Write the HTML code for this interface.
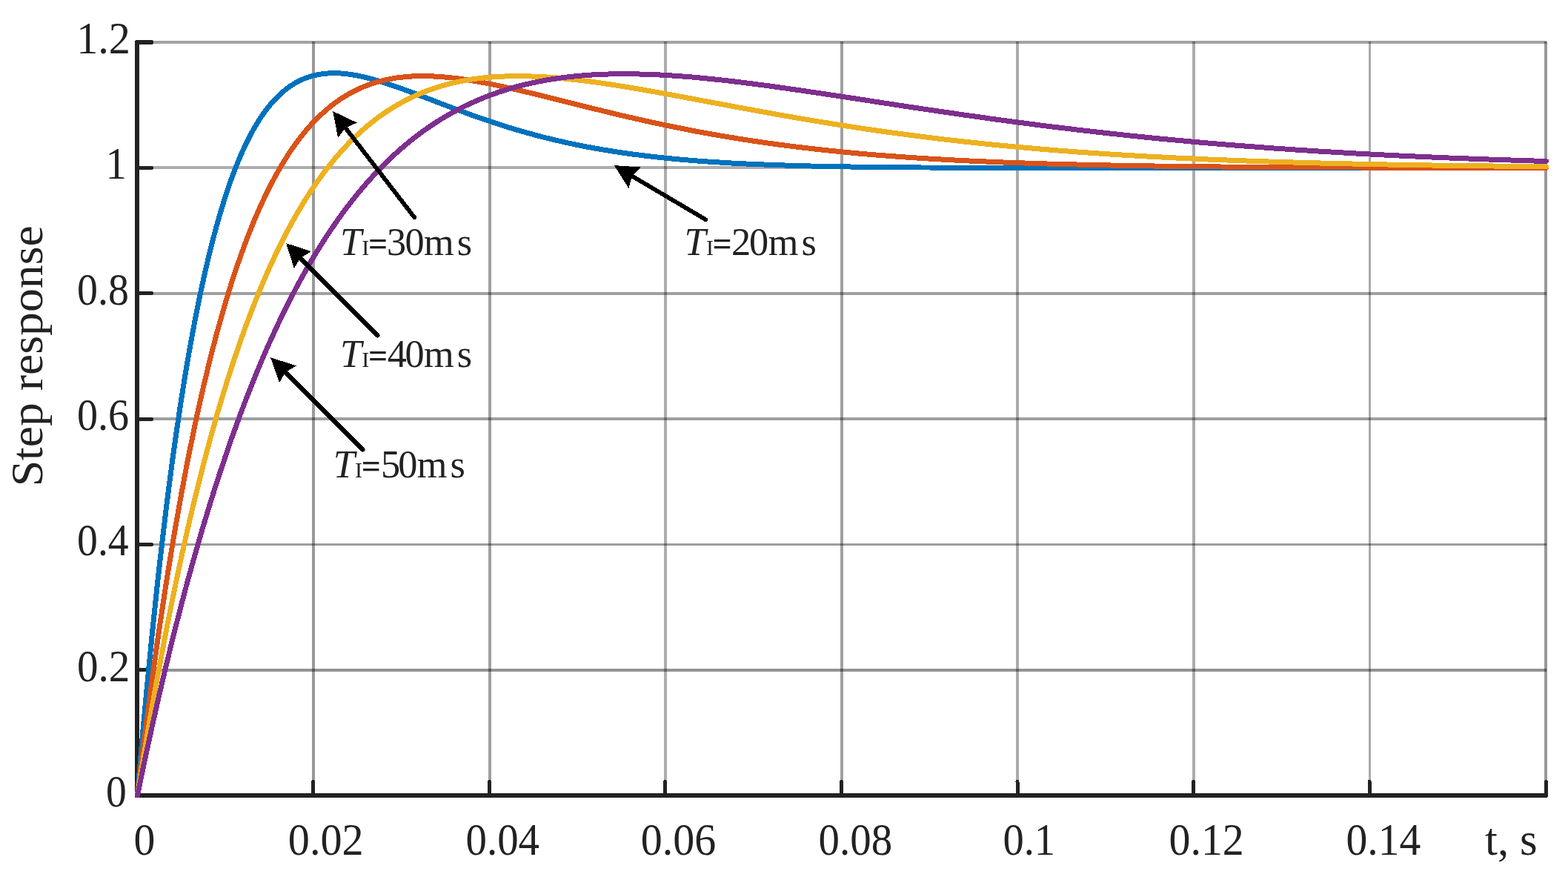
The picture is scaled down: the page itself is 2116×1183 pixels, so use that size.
<!DOCTYPE html>
<html lang="en"><head><meta charset="utf-8"><title>Step response</title>
<style>html,body{margin:0;padding:0;background:#fff;}body{width:2116px;height:1183px;overflow:hidden;}svg{display:block;}text{font-family:'Liberation Serif', 'DejaVu Serif', serif;fill:#222222;}</style>
</head><body>
<svg width="2116" height="1183" viewBox="0 0 2116 1183" role="img" aria-label="Step response for different integral time constants">
<rect x="0" y="0" width="2116" height="1183" fill="#ffffff"/>
<g fill="#000000" shape-rendering="crispEdges">
<rect x="421" y="56" width="4" height="1014" fill-opacity="0.400"/>
<rect x="659" y="56" width="4" height="1014" fill-opacity="0.376"/>
<rect x="896" y="56" width="4" height="1014" fill-opacity="0.322"/>
<rect x="1134" y="56" width="4" height="1014" fill-opacity="0.373"/>
<rect x="1371" y="56" width="4" height="1014" fill-opacity="0.329"/>
<rect x="1609" y="56" width="4" height="1014" fill-opacity="0.329"/>
<rect x="1847" y="56" width="3" height="1014" fill-opacity="0.329"/>
<rect x="2084" y="56" width="4" height="1014" fill-opacity="0.400"/>
<rect x="188" y="55" width="1899" height="4" fill-opacity="0.361"/>
<rect x="188" y="224" width="1899" height="4" fill-opacity="0.322"/>
<rect x="188" y="394" width="1899" height="4" fill-opacity="0.373"/>
<rect x="188" y="563" width="1899" height="4" fill-opacity="0.376"/>
<rect x="188" y="733" width="1899" height="3" fill-opacity="0.384"/>
<rect x="188" y="902" width="1899" height="4" fill-opacity="0.424"/>
</g>
<g stroke="#222222" fill="none" stroke-linecap="round" stroke-linejoin="round" shape-rendering="crispEdges">
<path d="M185,57 L185,1073 L2086.5,1073" stroke-width="6"/>
<line x1="422.7" y1="1072" x2="422.7" y2="1054.5" stroke-width="5"/>
<line x1="660.3" y1="1072" x2="660.3" y2="1054.5" stroke-width="5"/>
<line x1="897.8" y1="1072" x2="897.8" y2="1054.5" stroke-width="5"/>
<line x1="1135.4" y1="1072" x2="1135.4" y2="1054.5" stroke-width="5"/>
<line x1="1373.0" y1="1072" x2="1373.0" y2="1054.5" stroke-width="5"/>
<line x1="1610.6" y1="1072" x2="1610.6" y2="1054.5" stroke-width="5"/>
<line x1="1848.1" y1="1072" x2="1848.1" y2="1054.5" stroke-width="5"/>
<line x1="2086.5" y1="1072" x2="2086.5" y2="1054.5" stroke-width="5"/>
<rect x="186" y="54" width="20" height="6" fill="#222222" stroke="none"/>
<rect x="206" y="55" width="1" height="4" fill="#222222" stroke="none"/>
<rect x="186" y="224" width="20" height="5" fill="#222222" stroke="none"/>
<rect x="206" y="225" width="1" height="3" fill="#222222" stroke="none"/>
<rect x="186" y="393" width="20" height="5" fill="#222222" stroke="none"/>
<rect x="206" y="394" width="1" height="3" fill="#222222" stroke="none"/>
<rect x="186" y="563" width="20" height="5" fill="#222222" stroke="none"/>
<rect x="206" y="564" width="1" height="3" fill="#222222" stroke="none"/>
<rect x="186" y="732" width="20" height="5" fill="#222222" stroke="none"/>
<rect x="206" y="733" width="1" height="3" fill="#222222" stroke="none"/>
<rect x="186" y="901" width="20" height="5" fill="#222222" stroke="none"/>
<rect x="206" y="902" width="1" height="3" fill="#222222" stroke="none"/>
</g>
<defs><clipPath id="cp"><rect x="182" y="0" width="2116" height="1076"/></clipPath></defs>
<g fill="none" stroke-width="7.0" stroke-linejoin="round" stroke-linecap="round" clip-path="url(#cp)" shape-rendering="crispEdges">
<path stroke="#0072BD" d="M185.4,1073.2 189.4,1026.3 193.3,981.2 197.3,937.9 201.3,896.3 205.2,856.4 209.2,818.1 213.1,781.4 217.1,746.2 221.1,712.4 225.0,680.1 229.0,649.1 232.9,619.5 236.9,591.1 240.9,563.9 244.8,537.9 248.8,513.1 252.7,489.3 256.7,466.7 260.7,445.0 264.6,424.4 268.6,404.7 272.5,385.9 276.5,368.0 280.5,350.9 284.4,334.7 288.4,319.3 292.3,304.6 296.3,290.7 300.3,277.5 304.2,264.9 308.2,253.0 312.1,241.8 316.1,231.1 320.1,221.0 324.0,211.5 328.0,202.5 331.9,194.1 335.9,186.1 339.9,178.6 343.8,171.6 347.8,165.0 351.7,158.8 355.7,153.0 359.6,147.6 363.6,142.6 367.6,137.9 371.5,133.6 375.5,129.6 379.4,125.9 383.4,122.5 387.4,119.3 391.3,116.5 395.3,113.9 399.2,111.5 403.2,109.4 407.2,107.5 411.1,105.8 415.1,104.4 419.0,103.1 423.0,102.0 428.9,100.6 434.9,99.7 440.8,99.1 446.8,98.7 452.7,98.7 458.6,98.9 464.6,99.4 470.5,100.1 476.5,101.0 482.4,102.0 488.3,103.3 494.3,104.7 500.2,106.2 506.1,107.8 512.1,109.6 518.0,111.4 524.0,113.4 529.9,115.4 535.8,117.4 541.8,119.5 547.7,121.7 553.7,123.9 559.6,126.1 565.5,128.4 571.5,130.7 577.4,132.9 583.4,135.2 589.3,137.5 595.2,139.8 601.2,142.0 607.1,144.3 613.1,146.5 619.0,148.8 624.9,150.9 630.9,153.1 636.8,155.3 642.8,157.4 648.7,159.5 654.6,161.5 660.6,163.5 666.5,165.5 672.4,167.4 678.4,169.3 684.3,171.2 690.3,173.0 696.2,174.8 702.1,176.6 708.1,178.3 714.0,179.9 720.0,181.5 725.9,183.1 731.8,184.7 737.8,186.2 743.7,187.6 749.7,189.0 755.6,190.4 761.5,191.8 767.5,193.1 773.4,194.3 779.4,195.6 785.3,196.7 791.2,197.9 797.2,199.0 803.1,200.1 809.1,201.1 815.0,202.2 820.9,203.1 826.9,204.1 832.8,205.0 838.7,205.9 844.7,206.7 850.6,207.6 856.6,208.4 862.5,209.1 868.4,209.9 874.4,210.6 880.3,211.3 886.3,211.9 892.2,212.6 898.1,213.2 904.1,213.8 910.0,214.3 916.0,214.9 921.9,215.4 927.8,215.9 933.8,216.4 939.7,216.9 945.7,217.3 951.6,217.8 957.5,218.2 963.5,218.6 969.4,218.9 975.4,219.3 981.3,219.7 987.2,220.0 993.2,220.3 999.1,220.6 1005.0,220.9 1011.0,221.2 1016.9,221.4 1022.9,221.7 1028.8,221.9 1034.7,222.2 1040.7,222.4 1046.6,222.6 1052.6,222.8 1058.5,223.0 1064.4,223.2 1070.4,223.4 1076.3,223.5 1082.3,223.7 1088.2,223.9 1094.1,224.0 1100.1,224.1 1106.0,224.3 1112.0,224.4 1117.9,224.5 1123.8,224.6 1129.8,224.7 1135.7,224.8 1147.6,225.0 1159.5,225.2 1171.3,225.4 1183.2,225.5 1195.1,225.6 1207.0,225.7 1218.9,225.8 1230.7,225.9 1242.6,226.0 1254.5,226.0 1266.4,226.1 1278.3,226.2 1290.1,226.2 1302.0,226.2 1313.9,226.3 1325.8,226.3 1337.6,226.3 1349.5,226.4 1361.4,226.4 1373.3,226.4 1385.2,226.4 1397.0,226.4 1408.9,226.4 1420.8,226.4 1432.7,226.4 1444.6,226.4 1456.4,226.4 1468.3,226.4 1480.2,226.4 1492.1,226.4 1503.9,226.4 1515.8,226.4 1527.7,226.4 1539.6,226.4 1551.5,226.4 1563.3,226.4 1575.2,226.4 1587.1,226.4 1599.0,226.4 1610.8,226.4 1622.7,226.4 1634.6,226.4 1646.5,226.4 1658.4,226.4 1670.2,226.4 1682.1,226.4 1694.0,226.4 1705.9,226.4 1717.8,226.4 1729.6,226.4 1741.5,226.4 1753.4,226.4 1765.3,226.4 1777.1,226.4 1789.0,226.4 1800.9,226.4 1812.8,226.4 1824.7,226.4 1836.5,226.4 1848.4,226.4 1860.3,226.4 1872.2,226.4 1884.1,226.4 1895.9,226.4 1907.8,226.4 1919.7,226.4 1931.6,226.4 1943.4,226.4 1955.3,226.4 1967.2,226.4 1979.1,226.4 1991.0,226.4 2002.8,226.4 2014.7,226.4 2026.6,226.4 2038.5,226.4 2050.4,226.4 2062.2,226.4 2074.1,226.4 2086.5,226.4"/>
<path stroke="#D95319" d="M185.4,1073.2 189.4,1040.2 193.3,1008.1 197.3,976.9 201.3,946.6 205.2,917.2 209.2,888.6 213.1,860.8 217.1,833.8 221.1,807.7 225.0,782.2 229.0,757.6 232.9,733.6 236.9,710.4 240.9,687.9 244.8,666.0 248.8,644.8 252.7,624.2 256.7,604.3 260.7,585.0 264.6,566.2 268.6,548.1 272.5,530.5 276.5,513.5 280.5,497.0 284.4,481.0 288.4,465.5 292.3,450.6 296.3,436.1 300.3,422.1 304.2,408.5 308.2,395.4 312.1,382.7 316.1,370.5 320.1,358.6 324.0,347.2 328.0,336.2 331.9,325.5 335.9,315.2 339.9,305.3 343.8,295.7 347.8,286.5 351.7,277.6 355.7,269.0 359.6,260.7 363.6,252.8 367.6,245.1 371.5,237.7 375.5,230.6 379.4,223.8 383.4,217.3 387.4,211.0 391.3,204.9 395.3,199.1 399.2,193.6 403.2,188.2 407.2,183.1 411.1,178.2 415.1,173.5 419.0,169.0 423.0,164.8 428.9,158.7 434.9,153.1 440.8,147.8 446.8,142.9 452.7,138.4 458.6,134.2 464.6,130.4 470.5,126.9 476.5,123.7 482.4,120.7 488.3,118.0 494.3,115.6 500.2,113.5 506.1,111.5 512.1,109.8 518.0,108.3 524.0,107.0 529.9,105.9 535.8,104.9 541.8,104.2 547.7,103.6 553.7,103.1 559.6,102.8 565.5,102.7 571.5,102.6 577.4,102.7 583.4,102.9 589.3,103.2 595.2,103.6 601.2,104.1 607.1,104.7 613.1,105.3 619.0,106.1 624.9,106.9 630.9,107.8 636.8,108.7 642.8,109.8 648.7,110.8 654.6,111.9 660.6,113.1 666.5,114.3 672.4,115.5 678.4,116.8 684.3,118.1 690.3,119.4 696.2,120.8 702.1,122.2 708.1,123.6 714.0,125.0 720.0,126.4 725.9,127.9 731.8,129.3 737.8,130.8 743.7,132.3 749.7,133.8 755.6,135.3 761.5,136.7 767.5,138.2 773.4,139.7 779.4,141.2 785.3,142.7 791.2,144.2 797.2,145.6 803.1,147.1 809.1,148.5 815.0,150.0 820.9,151.4 826.9,152.9 832.8,154.3 838.7,155.7 844.7,157.1 850.6,158.4 856.6,159.8 862.5,161.1 868.4,162.5 874.4,163.8 880.3,165.1 886.3,166.4 892.2,167.6 898.1,168.9 904.1,170.1 910.0,171.3 916.0,172.5 921.9,173.7 927.8,174.9 933.8,176.0 939.7,177.2 945.7,178.3 951.6,179.4 957.5,180.4 963.5,181.5 969.4,182.5 975.4,183.6 981.3,184.6 987.2,185.5 993.2,186.5 999.1,187.5 1005.0,188.4 1011.0,189.3 1016.9,190.2 1022.9,191.1 1028.8,192.0 1034.7,192.8 1040.7,193.6 1046.6,194.5 1052.6,195.3 1058.5,196.0 1064.4,196.8 1070.4,197.6 1076.3,198.3 1082.3,199.0 1088.2,199.7 1094.1,200.4 1100.1,201.1 1106.0,201.7 1112.0,202.4 1117.9,203.0 1123.8,203.6 1129.8,204.2 1135.7,204.8 1147.6,206.0 1159.5,207.1 1171.3,208.1 1183.2,209.1 1195.1,210.0 1207.0,210.9 1218.9,211.8 1230.7,212.6 1242.6,213.4 1254.5,214.1 1266.4,214.8 1278.3,215.5 1290.1,216.1 1302.0,216.7 1313.9,217.3 1325.8,217.8 1337.6,218.3 1349.5,218.8 1361.4,219.3 1373.3,219.7 1385.2,220.1 1397.0,220.5 1408.9,220.9 1420.8,221.2 1432.7,221.5 1444.6,221.8 1456.4,222.1 1468.3,222.4 1480.2,222.7 1492.1,222.9 1503.9,223.1 1515.8,223.3 1527.7,223.5 1539.6,223.7 1551.5,223.9 1563.3,224.1 1575.2,224.2 1587.1,224.4 1599.0,224.5 1610.8,224.7 1622.7,224.8 1634.6,224.9 1646.5,225.0 1658.4,225.1 1670.2,225.2 1682.1,225.3 1694.0,225.4 1705.9,225.4 1717.8,225.5 1729.6,225.6 1741.5,225.6 1753.4,225.7 1765.3,225.7 1777.1,225.8 1789.0,225.8 1800.9,225.9 1812.8,225.9 1824.7,226.0 1836.5,226.0 1848.4,226.0 1860.3,226.1 1872.2,226.1 1884.1,226.1 1895.9,226.1 1907.8,226.2 1919.7,226.2 1931.6,226.2 1943.4,226.2 1955.3,226.2 1967.2,226.2 1979.1,226.3 1991.0,226.3 2002.8,226.3 2014.7,226.3 2026.6,226.3 2038.5,226.3 2050.4,226.3 2062.2,226.3 2074.1,226.3 2086.5,226.3"/>
<path stroke="#EDB120" d="M185.4,1073.2 189.4,1048.3 193.3,1024.0 197.3,1000.2 201.3,976.8 205.2,954.0 209.2,931.7 213.1,909.8 217.1,888.5 221.1,867.5 225.0,847.1 229.0,827.1 232.9,807.5 236.9,788.4 240.9,769.6 244.8,751.3 248.8,733.4 252.7,715.9 256.7,698.8 260.7,682.1 264.6,665.8 268.6,649.8 272.5,634.2 276.5,619.0 280.5,604.1 284.4,589.5 288.4,575.3 292.3,561.4 296.3,547.8 300.3,534.6 304.2,521.7 308.2,509.0 312.1,496.7 316.1,484.7 320.1,473.0 324.0,461.5 328.0,450.3 331.9,439.4 335.9,428.8 339.9,418.4 343.8,408.3 347.8,398.4 351.7,388.8 355.7,379.4 359.6,370.2 363.6,361.3 367.6,352.7 371.5,344.2 375.5,336.0 379.4,327.9 383.4,320.1 387.4,312.5 391.3,305.1 395.3,297.9 399.2,290.9 403.2,284.0 407.2,277.4 411.1,270.9 415.1,264.6 419.0,258.5 423.0,252.6 428.9,244.0 434.9,235.8 440.8,227.9 446.8,220.4 452.7,213.1 458.6,206.3 464.6,199.7 470.5,193.4 476.5,187.4 482.4,181.7 488.3,176.3 494.3,171.2 500.2,166.3 506.1,161.6 512.1,157.2 518.0,153.0 524.0,149.0 529.9,145.3 535.8,141.7 541.8,138.4 547.7,135.2 553.7,132.2 559.6,129.5 565.5,126.8 571.5,124.4 577.4,122.1 583.4,120.0 589.3,118.0 595.2,116.2 601.2,114.5 607.1,112.9 613.1,111.5 619.0,110.2 624.9,109.0 630.9,108.0 636.8,107.0 642.8,106.2 648.7,105.4 654.6,104.8 660.6,104.2 666.5,103.8 672.4,103.4 678.4,103.1 684.3,102.9 690.3,102.7 696.2,102.7 702.1,102.7 708.1,102.8 714.0,102.9 720.0,103.1 725.9,103.4 731.8,103.7 737.8,104.0 743.7,104.5 749.7,104.9 755.6,105.4 761.5,106.0 767.5,106.6 773.4,107.2 779.4,107.9 785.3,108.6 791.2,109.3 797.2,110.1 803.1,110.9 809.1,111.7 815.0,112.6 820.9,113.5 826.9,114.4 832.8,115.3 838.7,116.3 844.7,117.2 850.6,118.2 856.6,119.2 862.5,120.2 868.4,121.2 874.4,122.3 880.3,123.3 886.3,124.4 892.2,125.5 898.1,126.5 904.1,127.6 910.0,128.7 916.0,129.8 921.9,130.9 927.8,132.0 933.8,133.1 939.7,134.2 945.7,135.4 951.6,136.5 957.5,137.6 963.5,138.7 969.4,139.8 975.4,140.9 981.3,142.0 987.2,143.2 993.2,144.3 999.1,145.4 1005.0,146.5 1011.0,147.5 1016.9,148.6 1022.9,149.7 1028.8,150.8 1034.7,151.9 1040.7,152.9 1046.6,154.0 1052.6,155.1 1058.5,156.1 1064.4,157.1 1070.4,158.2 1076.3,159.2 1082.3,160.2 1088.2,161.2 1094.1,162.2 1100.1,163.2 1106.0,164.2 1112.0,165.2 1117.9,166.1 1123.8,167.1 1129.8,168.0 1135.7,169.0 1147.6,170.8 1159.5,172.6 1171.3,174.4 1183.2,176.1 1195.1,177.8 1207.0,179.4 1218.9,181.0 1230.7,182.6 1242.6,184.1 1254.5,185.6 1266.4,187.1 1278.3,188.5 1290.1,189.8 1302.0,191.2 1313.9,192.4 1325.8,193.7 1337.6,194.9 1349.5,196.1 1361.4,197.2 1373.3,198.3 1385.2,199.4 1397.0,200.4 1408.9,201.5 1420.8,202.4 1432.7,203.4 1444.6,204.3 1456.4,205.2 1468.3,206.0 1480.2,206.8 1492.1,207.6 1503.9,208.4 1515.8,209.1 1527.7,209.8 1539.6,210.5 1551.5,211.2 1563.3,211.8 1575.2,212.4 1587.1,213.0 1599.0,213.6 1610.8,214.1 1622.7,214.7 1634.6,215.2 1646.5,215.7 1658.4,216.1 1670.2,216.6 1682.1,217.0 1694.0,217.4 1705.9,217.8 1717.8,218.2 1729.6,218.6 1741.5,218.9 1753.4,219.3 1765.3,219.6 1777.1,219.9 1789.0,220.2 1800.9,220.5 1812.8,220.8 1824.7,221.0 1836.5,221.3 1848.4,221.5 1860.3,221.8 1872.2,222.0 1884.1,222.2 1895.9,222.4 1907.8,222.6 1919.7,222.8 1931.6,223.0 1943.4,223.1 1955.3,223.3 1967.2,223.4 1979.1,223.6 1991.0,223.7 2002.8,223.9 2014.7,224.0 2026.6,224.1 2038.5,224.2 2050.4,224.3 2062.2,224.5 2074.1,224.6 2086.5,224.7"/>
<path stroke="#7E2F8E" d="M185.4,1073.2 189.4,1054.0 193.3,1035.0 197.3,1016.4 201.3,998.1 205.2,980.1 209.2,962.4 213.1,944.9 217.1,927.8 221.1,910.9 225.0,894.3 229.0,878.0 232.9,862.0 236.9,846.2 240.9,830.7 244.8,815.4 248.8,800.4 252.7,785.7 256.7,771.2 260.7,756.9 264.6,742.9 268.6,729.2 272.5,715.6 276.5,702.4 280.5,689.3 284.4,676.4 288.4,663.8 292.3,651.4 296.3,639.2 300.3,627.3 304.2,615.5 308.2,604.0 312.1,592.6 316.1,581.5 320.1,570.5 324.0,559.8 328.0,549.2 331.9,538.9 335.9,528.7 339.9,518.7 343.8,508.9 347.8,499.2 351.7,489.8 355.7,480.5 359.6,471.4 363.6,462.4 367.6,453.7 371.5,445.1 375.5,436.6 379.4,428.3 383.4,420.2 387.4,412.2 391.3,404.4 395.3,396.7 399.2,389.2 403.2,381.8 407.2,374.6 411.1,367.5 415.1,360.5 419.0,353.7 423.0,347.0 428.9,337.3 434.9,327.8 440.8,318.6 446.8,309.7 452.7,301.0 458.6,292.6 464.6,284.5 470.5,276.7 476.5,269.0 482.4,261.7 488.3,254.5 494.3,247.6 500.2,241.0 506.1,234.5 512.1,228.3 518.0,222.2 524.0,216.4 529.9,210.8 535.8,205.4 541.8,200.1 547.7,195.1 553.7,190.2 559.6,185.5 565.5,181.0 571.5,176.6 577.4,172.4 583.4,168.4 589.3,164.5 595.2,160.8 601.2,157.2 607.1,153.8 613.1,150.5 619.0,147.3 624.9,144.3 630.9,141.4 636.8,138.7 642.8,136.0 648.7,133.5 654.6,131.1 660.6,128.8 666.5,126.6 672.4,124.5 678.4,122.6 684.3,120.7 690.3,118.9 696.2,117.2 702.1,115.7 708.1,114.2 714.0,112.8 720.0,111.5 725.9,110.2 731.8,109.1 737.8,108.0 743.7,107.0 749.7,106.1 755.6,105.2 761.5,104.4 767.5,103.7 773.4,103.1 779.4,102.5 785.3,102.0 791.2,101.5 797.2,101.1 803.1,100.7 809.1,100.5 815.0,100.2 820.9,100.0 826.9,99.9 832.8,99.8 838.7,99.7 844.7,99.7 850.6,99.8 856.6,99.8 862.5,100.0 868.4,100.1 874.4,100.3 880.3,100.5 886.3,100.8 892.2,101.1 898.1,101.4 904.1,101.8 910.0,102.2 916.0,102.6 921.9,103.1 927.8,103.5 933.8,104.0 939.7,104.6 945.7,105.1 951.6,105.7 957.5,106.3 963.5,106.9 969.4,107.5 975.4,108.2 981.3,108.8 987.2,109.5 993.2,110.2 999.1,110.9 1005.0,111.7 1011.0,112.4 1016.9,113.2 1022.9,114.0 1028.8,114.7 1034.7,115.5 1040.7,116.3 1046.6,117.2 1052.6,118.0 1058.5,118.8 1064.4,119.7 1070.4,120.5 1076.3,121.4 1082.3,122.2 1088.2,123.1 1094.1,124.0 1100.1,124.9 1106.0,125.7 1112.0,126.6 1117.9,127.5 1123.8,128.4 1129.8,129.3 1135.7,130.2 1147.6,132.0 1159.5,133.8 1171.3,135.6 1183.2,137.5 1195.1,139.3 1207.0,141.1 1218.9,142.9 1230.7,144.7 1242.6,146.5 1254.5,148.2 1266.4,150.0 1278.3,151.7 1290.1,153.4 1302.0,155.2 1313.9,156.8 1325.8,158.5 1337.6,160.2 1349.5,161.8 1361.4,163.4 1373.3,165.0 1385.2,166.5 1397.0,168.1 1408.9,169.6 1420.8,171.1 1432.7,172.5 1444.6,173.9 1456.4,175.4 1468.3,176.7 1480.2,178.1 1492.1,179.4 1503.9,180.7 1515.8,182.0 1527.7,183.3 1539.6,184.5 1551.5,185.7 1563.3,186.9 1575.2,188.0 1587.1,189.1 1599.0,190.2 1610.8,191.3 1622.7,192.4 1634.6,193.4 1646.5,194.4 1658.4,195.4 1670.2,196.3 1682.1,197.2 1694.0,198.1 1705.9,199.0 1717.8,199.9 1729.6,200.7 1741.5,201.6 1753.4,202.3 1765.3,203.1 1777.1,203.9 1789.0,204.6 1800.9,205.3 1812.8,206.0 1824.7,206.7 1836.5,207.4 1848.4,208.0 1860.3,208.6 1872.2,209.2 1884.1,209.8 1895.9,210.4 1907.8,210.9 1919.7,211.5 1931.6,212.0 1943.4,212.5 1955.3,213.0 1967.2,213.4 1979.1,213.9 1991.0,214.4 2002.8,214.8 2014.7,215.2 2026.6,215.6 2038.5,216.0 2050.4,216.4 2062.2,216.8 2074.1,217.1 2086.5,217.5"/>
<rect x="182" y="1071" width="5" height="5" fill="#7E2F8E" stroke="none"/>
</g>
<g stroke="#000" fill="#000" stroke-width="5.8" shape-rendering="crispEdges">
<path fill="none" stroke-linecap="round" d="M559.2,293.2 L464.4,170.2"/>
<polygon stroke="none" points="449.2,150.0 481.8,165.5 466.2,172.6 456.1,186.0"/>
<path fill="none" stroke-linecap="round" d="M509.6,452.5 L403.1,346.1"/>
<polygon stroke="none" points="386.1,328.1 420.0,339.1 405.2,348.3 396.9,362.2"/>
<path fill="none" stroke-linecap="round" d="M489.6,606.5 L383.0,500.1"/>
<polygon stroke="none" points="365.0,482.2 400.0,493.4 385.2,502.2 377.0,516.1"/>
<path fill="none" stroke-linecap="round" d="M952.1,296.1 L850.4,236.0"/>
<polygon stroke="none" points="828.9,223.1 865.1,225.6 853.0,237.5 848.4,254.0"/>
</g>
<text transform="translate(143.05,1087.5) scale(0.9177,1)" font-size="60.6">0</text>
<text transform="translate(103.99,918.5) scale(0.9434,1)" font-size="60.6">0.2</text>
<text transform="translate(104.04,748.5) scale(0.9200,1)" font-size="60.6">0.4</text>
<text transform="translate(104.03,579.5) scale(0.9260,1)" font-size="60.6">0.6</text>
<text transform="translate(104.04,410.5) scale(0.9218,1)" font-size="60.6">0.8</text>
<text transform="translate(142.46,240.5) scale(0.9382,1)" font-size="60.6">1</text>
<text transform="translate(103.14,71.5) scale(0.9620,1)" font-size="60.6">1.2</text>
<text transform="translate(180.58,1152.6) scale(0.9520,1)" font-size="60.6">0</text>
<text transform="translate(388.86,1152.6) scale(0.9604,1)" font-size="60.6">0.02</text>
<text transform="translate(628.50,1152.6) scale(0.9387,1)" font-size="60.6">0.04</text>
<text transform="translate(864.67,1152.6) scale(0.9577,1)" font-size="60.6">0.06</text>
<text transform="translate(1104.60,1152.6) scale(0.9381,1)" font-size="60.6">0.08</text>
<text transform="translate(1353.41,1152.6) scale(0.9341,1)" font-size="60.6">0.1</text>
<text transform="translate(1577.47,1152.6) scale(0.9554,1)" font-size="60.6">0.12</text>
<text transform="translate(1816.48,1152.6) scale(0.9503,1)" font-size="60.6">0.14</text>
<text x="2004 2021 2036 2051" y="1152.6" font-size="60.6">t, s</text>
<text transform="translate(56.9,656.3) rotate(-90)" font-size="61" textLength="352" lengthAdjust="spacingAndGlyphs">Step response</text>
<text y="344.1" font-size="52.3"><tspan x="458.9" font-style="italic">T</tspan><tspan x="488.2" font-size="30">I</tspan><tspan x="496.9" dy="-0.3" font-size="46" font-weight="bold">=</tspan><tspan x="521.9 546.4 572.0 616.7" dy="0.3">30ms</tspan></text>
<text y="494.8" font-size="52.3"><tspan x="459.0" font-style="italic">T</tspan><tspan x="488.3" font-size="30">I</tspan><tspan x="497.0" dy="-0.3" font-size="46" font-weight="bold">=</tspan><tspan x="522.8 546.5 572.1 616.8" dy="0.3">40ms</tspan></text>
<text y="644.2" font-size="52.3"><tspan x="449.7" font-style="italic">T</tspan><tspan x="479.0" font-size="30">I</tspan><tspan x="487.7" dy="-0.3" font-size="46" font-weight="bold">=</tspan><tspan x="514.0 537.2 562.8 607.5" dy="0.3">50ms</tspan></text>
<text y="344.2" font-size="52.3"><tspan x="923.6" font-style="italic">T</tspan><tspan x="952.9" font-size="30">I</tspan><tspan x="961.6" dy="-0.3" font-size="46" font-weight="bold">=</tspan><tspan x="987.1 1011.1 1036.7 1081.4" dy="0.3">20ms</tspan></text>
</svg></body></html>
